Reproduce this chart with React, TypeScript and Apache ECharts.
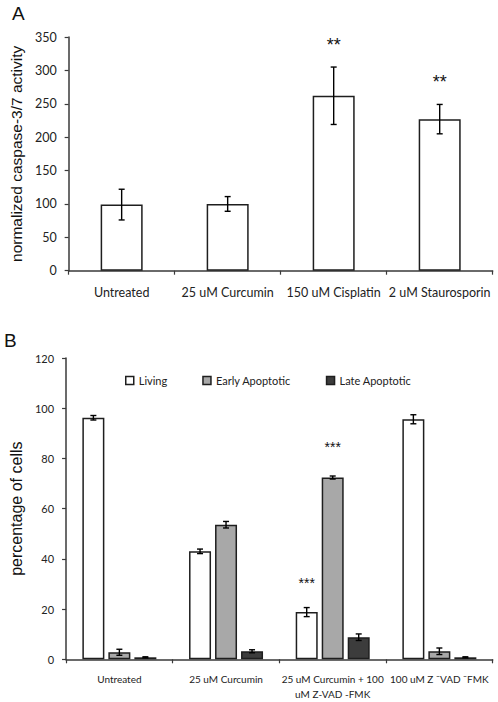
import React, { useEffect, useRef } from "react";
import * as echarts from "echarts";

const catsA = ["Untreated", "25 uM Curcumin", "150 uM Cisplatin", "2 uM Staurosporin"];
const valsA = [99, 100, 262, 227];
const errA = [23, 11, 43, 22];
const sigA = ["", "", "**", "**"];

const catsB = ["Untreated", "25 uM Curcumin", "25 uM Curcumin + 100\nuM Z-VAD -FMK", "100 uM Z \u00afVAD \u00afFMK"];
const seriesNamesB = ["Living", "Early Apoptotic", "Late Apoptotic"];
const livingB = [96.2, 43.0, 18.8, 95.6];
const livingErr = [0.9, 0.9, 1.8, 1.8];
const earlyB = [2.8, 53.6, 72.4, 3.2];
const earlyErr = [1.2, 1.3, 0.6, 1.3];
const lateB = [0.8, 3.2, 8.8, 0.8];
const lateErr = [0.2, 0.6, 1.3, 0.2];
const sigLiving = ["", "", "***", ""];
const sigEarly = ["", "", "***", ""];
const sigLate = ["", "", "", ""];

const colorsB = ["#ffffff", "#a8a8a8", "#3c3c3c"];
const INK = "#1e1e1e";
const TICK_FONT = "Lato";
const BAR_W_A = 42;
const BAR_W_B = 22;
const BAR_GAP_B = 4;

function errSeries(gridIdx: number, vals: number[], errs: number[], sig: string[], offset: number, starSize: number, starGap: number) {
  return {
    type: "custom",
    xAxisIndex: gridIdx,
    yAxisIndex: gridIdx,
    z: 10,
    silent: true,
    data: vals.map((v, i) => [i, v - errs[i], v + errs[i]]),
    encode: { x: 0, y: [1, 2] },
    renderItem: (params: any, api: any) => {
      const lo = api.coord([api.value(0), api.value(1)]);
      const hi = api.coord([api.value(0), api.value(2)]);
      const x = lo[0] + offset;
      const cap = 3;
      const st = { stroke: "#000", lineWidth: 1.4 };
      const children: any[] = [
        { type: "line", shape: { x1: x, y1: lo[1], x2: x, y2: hi[1] }, style: st },
        { type: "line", shape: { x1: x - cap, y1: lo[1], x2: x + cap, y2: lo[1] }, style: st },
        { type: "line", shape: { x1: x - cap, y1: hi[1], x2: x + cap, y2: hi[1] }, style: st },
      ];
      const s = sig[params.dataIndex];
      if (s) {
        children.push({
          type: "text",
          x,
          y: hi[1] - starGap,
          style: { text: s, fill: "#111", font: `${starSize}px 'Liberation Sans'`, align: "center", verticalAlign: "middle" },
        });
      }
      return { type: "group", children };
    },
  };
}

export default function App() {
  const ref = useRef<HTMLDivElement>(null);
  useEffect(() => {
    if (!ref.current) return;
    const chart = echarts.init(ref.current, undefined, { renderer: "svg" });
    const axisLine = { show: true, lineStyle: { color: "#3a3a3a", width: 1.5 } };
    const axisTick = { show: true, inside: false, length: 4, lineStyle: { color: "#3a3a3a", width: 1.2 } };
    const tickA = { color: "#222", fontFamily: TICK_FONT, fontSize: 12.5 };
    const tickB = { color: "#222", fontFamily: TICK_FONT, fontSize: 10 };
    const barStyle = (c: string) => ({ color: c, borderColor: INK, borderWidth: 1.5 });
    const offB = BAR_W_B + BAR_GAP_B;
    chart.setOption({
      animation: false,
      backgroundColor: "#ffffff",
      textStyle: { fontFamily: TICK_FONT },
      graphic: [
        { type: "text", left: 12, top: 4, style: { text: "A", font: "19px 'Liberation Sans'", fill: "#111" } },
        { type: "text", left: 4, top: 331, style: { text: "B", font: "19px 'Liberation Sans'", fill: "#111" } },
      ],
      legend: {
        left: 120,
        top: 370,
        itemWidth: 8,
        itemHeight: 8,
        itemGap: 35,
        itemStyle: { borderWidth: 1.5, borderColor: INK },
        icon: "rect",
        data: seriesNamesB,
        textStyle: { color: "#222", fontFamily: TICK_FONT, fontSize: 11 },
      },
      grid: [
        { left: 65.3, right: 5.3, top: 37, height: 233.7 },
        { left: 65.3, right: 5.3, top: 358, height: 301.3 },
      ],
      xAxis: [
        {
          type: "category",
          gridIndex: 0,
          data: catsA,
          axisLine,
          axisTick: { ...axisTick, alignWithLabel: false, interval: 0 },
          axisLabel: { ...tickA, margin: 15, interval: 0 },
        },
        {
          type: "category",
          gridIndex: 1,
          data: catsB,
          axisLine,
          axisTick: { ...axisTick, alignWithLabel: false, interval: 0 },
          axisLabel: { ...tickB, margin: 12, interval: 0, lineHeight: 15 },
        },
      ],
      yAxis: [
        {
          type: "value",
          gridIndex: 0,
          min: 0,
          max: 350,
          interval: 50,
          axisLine,
          axisTick,
          splitLine: { show: false },
          axisLabel: { ...tickA, margin: 12 },
          name: "normalized caspase-3/7 activity",
          nameLocation: "middle",
          nameGap: 40,
          nameTextStyle: { fontFamily: "Liberation Sans", fontSize: 15.5, color: "#111" },
        },
        {
          type: "value",
          gridIndex: 1,
          min: 0,
          max: 120,
          interval: 20,
          axisLine,
          axisTick,
          splitLine: { show: false },
          axisLabel: { ...tickB, fontSize: 11, margin: 12 },
          name: "percentage of cells",
          nameLocation: "middle",
          nameGap: 37,
          nameTextStyle: { fontFamily: "Liberation Sans", fontSize: 16, color: "#111" },
        },
      ],
      series: [
        {
          type: "bar",
          xAxisIndex: 0,
          yAxisIndex: 0,
          data: valsA,
          barWidth: BAR_W_A,
          itemStyle: barStyle("#ffffff"),
        },
        errSeries(0, valsA, errA, sigA, 0, 18, 22),
        {
          name: seriesNamesB[0],
          type: "bar",
          xAxisIndex: 1,
          yAxisIndex: 1,
          data: livingB,
          barWidth: BAR_W_B,
          barGap: `${(BAR_GAP_B / BAR_W_B) * 100}%`,
          itemStyle: barStyle(colorsB[0]),
        },
        {
          name: seriesNamesB[1],
          type: "bar",
          xAxisIndex: 1,
          yAxisIndex: 1,
          data: earlyB,
          barWidth: BAR_W_B,
          barGap: `${(BAR_GAP_B / BAR_W_B) * 100}%`,
          itemStyle: barStyle(colorsB[1]),
        },
        {
          name: seriesNamesB[2],
          type: "bar",
          xAxisIndex: 1,
          yAxisIndex: 1,
          data: lateB,
          barWidth: BAR_W_B,
          barGap: `${(BAR_GAP_B / BAR_W_B) * 100}%`,
          itemStyle: barStyle(colorsB[2]),
        },
        errSeries(1, livingB, livingErr, sigLiving, -offB, 14, 25),
        errSeries(1, earlyB, earlyErr, sigEarly, 0, 14, 29),
        errSeries(1, lateB, lateErr, sigLate, offB, 14, 25),
      ],
    });
    return () => chart.dispose();
  }, []);
  return (
    <div
      ref={ref}
      style={{ position: "absolute", left: 0, top: 0, width: 498, height: 702, background: "#fff" }}
    />
  );
}
